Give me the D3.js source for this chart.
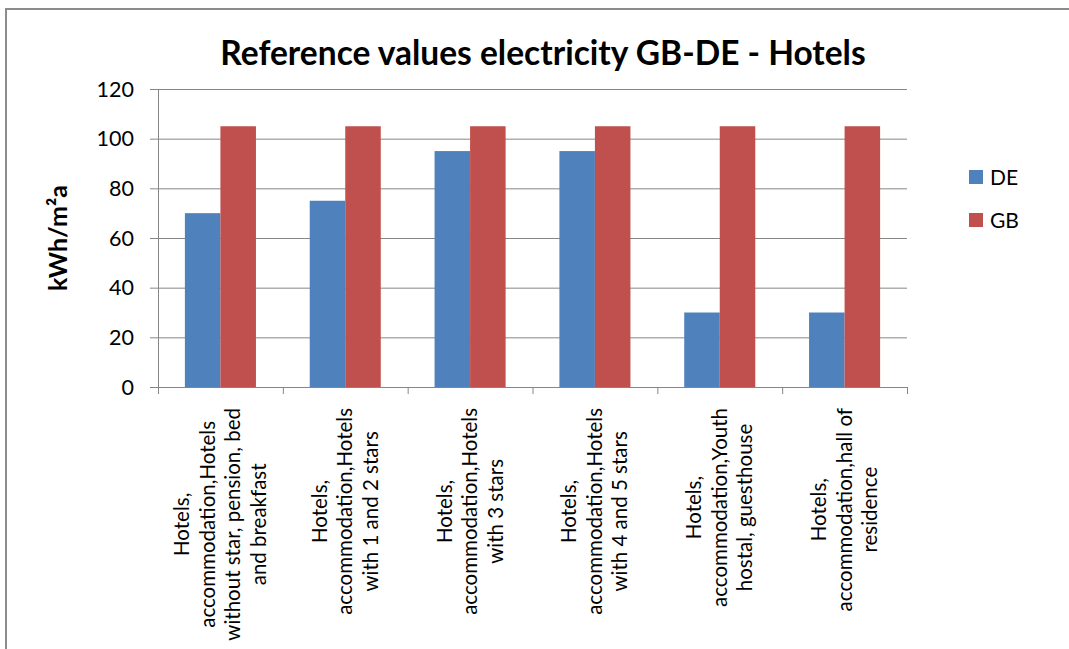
<!DOCTYPE html>
<html>
<head>
<meta charset="utf-8">
<script src="https://cdn.jsdelivr.net/npm/d3@7"></script>
<style>
  body { margin: 0; background: #fff; }
  text { font-family: Lato, "Open Sans", sans-serif; fill: #000; }
</style>
</head>
<body>
<div id="chart"></div>
<script>
// ---------- data ----------
var categories = [
    ["Hotels,", "accommodation,Hotels", "without star, pension, bed", "and breakfast"],
    ["Hotels,", "accommodation,Hotels", "with 1 and 2 stars"],
    ["Hotels,", "accommodation,Hotels", "with 3 stars"],
    ["Hotels,", "accommodation,Hotels", "with 4 and 5 stars"],
    ["Hotels,", "accommodation,Youth", "hostal, guesthouse"],
    ["Hotels,", "accommodation,hall of", "residence"]
];
var seriesNames = ["DE", "GB"];
var deValues = [70, 75, 95, 95, 30, 30];
var gbValues = [105, 105, 105, 105, 105, 105];
var yTicks = [0, 20, 40, 60, 80, 100, 120];
var colors = { DE: "#4F81BD", GB: "#C0504D" };

// ---------- layout ----------
var svgWidth = 1069, svgHeight = 649;
var plot = { left: 158, right: 907, top: 89, bottom: 387 };
var gridColor = "#868686";

var svg = d3.select("#chart").append("svg")
    .attr("width", svgWidth)
    .attr("height", svgHeight);

// outer chart frame (only top and left visible in the crop)
svg.append("rect")
    .attr("x", 6).attr("y", 9)
    .attr("width", 1200).attr("height", 800)
    .attr("fill", "#fff")
    .attr("stroke", "#8c8c8c")
    .attr("stroke-width", 2);

// ---------- scales ----------
var x = d3.scaleBand()
    .domain(d3.range(categories.length))
    .range([plot.left, plot.right])
    .padding(0);

var xSub = d3.scaleBand()
    .domain(seriesNames)
    .range([0, x.bandwidth()])
    .paddingInner(0)
    .paddingOuter(0.757);

var y = d3.scaleLinear()
    .domain([0, 120])
    .range([plot.bottom, plot.top]);

// ---------- grid + y axis ----------
var grid = svg.append("g");
grid.selectAll("line")
    .data(yTicks)
    .enter().append("line")
    .attr("x1", plot.left - 8)
    .attr("x2", plot.right)
    .attr("y1", d => y(d) + 0.5)
    .attr("y2", d => y(d) + 0.5)
    .attr("stroke", gridColor)
    .attr("stroke-width", 1);

svg.append("g").selectAll("text")
    .data(yTicks)
    .enter().append("text")
    .attr("x", plot.left - 24)
    .attr("y", d => y(d))
    .attr("dy", "0.36em")
    .attr("text-anchor", "end")
    .style("font-size", "21.5px")
    .text(d => d);

// ---------- bars ----------
var data = categories.map(function(c, i) {
    return { i: i, DE: deValues[i], GB: gbValues[i] };
});

var groups = svg.append("g").selectAll("g")
    .data(data)
    .enter().append("g")
    .attr("transform", d => "translate(" + x(d.i) + ",0)");

groups.selectAll("rect")
    .data(d => seriesNames.map(k => ({ key: k, value: d[k] })))
    .enter().append("rect")
    .attr("x", d => xSub(d.key))
    .attr("width", xSub.bandwidth())
    .attr("y", d => y(d.value))
    .attr("height", d => y(0) - y(d.value))
    .attr("fill", d => colors[d.key]);

// ---------- axes lines ----------
svg.append("line")
    .attr("x1", plot.left + 0.5).attr("x2", plot.left + 0.5)
    .attr("y1", plot.top).attr("y2", plot.bottom)
    .attr("stroke", gridColor);

svg.append("line")
    .attr("x1", plot.left - 8).attr("x2", plot.right)
    .attr("y1", plot.bottom + 0.5).attr("y2", plot.bottom + 0.5)
    .attr("stroke", gridColor);

var boundaries = d3.range(categories.length + 1).map(i => plot.left + i * x.step());
svg.append("g").selectAll("line")
    .data(boundaries)
    .enter().append("line")
    .attr("x1", d => d + 0.5).attr("x2", d => d + 0.5)
    .attr("y1", plot.bottom).attr("y2", plot.bottom + 7)
    .attr("stroke", gridColor);

// ---------- category labels (rotated, multi-line) ----------
var lineGap = 25.5;
var labelFont = 20.5;
var labels = svg.append("g").selectAll("g")
    .data(categories)
    .enter().append("g");

labels.each(function(lines, i) {
    var g = d3.select(this);
    var cx = x(i) + x.bandwidth() / 2;
    var n = lines.length;
    var texts = g.selectAll("text")
        .data(lines)
        .enter().append("text")
        .attr("text-anchor", "middle")
        .style("font-size", labelFont + "px")
        .text(d => d);
    var maxLen = d3.max(texts.nodes(), t => t.getComputedTextLength());
    var cy = plot.bottom + 21 + maxLen / 2;
    texts.attr("transform", function(d, j) {
        var bx = cx + (j - (n - 1) / 2) * lineGap + 7;
        return "translate(" + bx + "," + cy + ") rotate(-90)";
    });
});

// ---------- y axis title ----------
svg.append("text")
    .attr("transform", "translate(67,238) rotate(-90)")
    .attr("text-anchor", "middle")
    .style("font-size", "25px")
    .style("font-weight", "bold")
    .text("kWh/m²a");

// ---------- title ----------
svg.append("text")
    .attr("x", 543)
    .attr("y", 65)
    .attr("text-anchor", "middle")
    .style("font-size", "33.5px")
    .style("font-weight", "bold")
    .text("Reference values electricity GB-DE - Hotels");

// ---------- legend ----------
var legend = svg.append("g").selectAll("g")
    .data(seriesNames)
    .enter().append("g")
    .attr("transform", (d, i) => "translate(969," + (170 + i * 43) + ")");

legend.append("rect")
    .attr("width", 14).attr("height", 14)
    .attr("fill", d => colors[d]);

legend.append("text")
    .attr("x", 21)
    .attr("y", 7)
    .attr("dy", "0.36em")
    .style("font-size", "21px")
    .text(d => d);
</script>
</body>
</html>
